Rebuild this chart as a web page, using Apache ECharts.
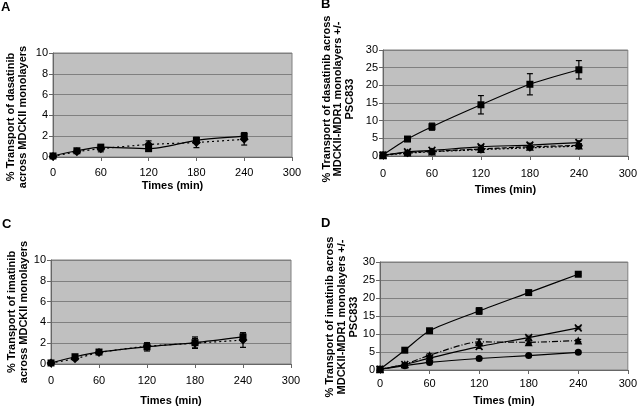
<!DOCTYPE html>
<html>
<head>
<meta charset="utf-8">
<script src="https://cdn.jsdelivr.net/npm/echarts@6/dist/echarts.min.js"></script>
<style>html,body{margin:0;padding:0;background:#fff}#c{width:640px;height:407px}</style>
</head>
<body>
<div id="c"></div>
<script>
// ---- data ----
const times = [0, 30, 60, 120, 180, 240];
const xTicks = [0, 60, 120, 180, 240, 300];

// Panel A: dasatinib, MDCKII
const A_sq = [0.1, 0.6, 0.95, 0.8, 1.6, 2.0];
const A_sqErr = [0, 0.1, 0.15, 0.25, 0.2, 0.35];
const A_dia = [0.05, 0.5, 0.8, 1.2, 1.4, 1.7];
const A_diaErr = [0, 0.1, 0.3, 0.35, 0.5, 0.55];

// Panel B: dasatinib, MDCKII-MDR1 +/- PSC833
const B_sq = [0.3, 4.8, 8.3, 14.5, 20.3, 24.4];
const B_sqErr = [0, 0.3, 1.0, 2.6, 3.0, 2.6];
const B_x = [0.2, 1.2, 1.6, 2.6, 3.1, 3.8];
const B_xErr = [0, 0.3, 0.4, 0.4, 0.5, 0.5];
const B_tri = [0.2, 1.0, 1.3, 2.0, 2.6, 3.0];
const B_triErr = [0, 0.2, 0.3, 0.4, 0.4, 0.5];
const B_dia = [0.2, 0.8, 1.2, 1.8, 2.3, 2.8];
const B_diaErr = [0, 0.2, 0.3, 0.3, 0.4, 0.4];

// Panel C: imatinib, MDCKII
const C_sq = [0.1, 0.7, 1.15, 1.65, 2.05, 2.6];
const C_sqErr = [0, 0.1, 0.15, 0.4, 0.55, 0.4];
const C_dia = [0.1, 0.5, 1.1, 1.7, 2.0, 2.3];
const C_diaErr = [0, 0.1, 0.15, 0.3, 0.45, 0.7];

// Panel D: imatinib, MDCKII-MDR1 +/- PSC833
const D_sq = [0.2, 5.5, 10.9, 16.4, 21.5, 26.6];
const D_sqErr = [0, 0.3, 0.3, 0.9, 0.3, 0.3];
const D_x = [0.2, 1.5, 3.3, 6.5, 9.0, 11.7];
const D_xErr = [0, 0.2, 0.3, 0.5, 0.4, 0.3];
const D_tri = [0.2, 1.6, 4.1, 7.8, 7.7, 8.2];
const D_triErr = [0, 0.2, 0.4, 0.8, 0.4, 0.3];
const D_circ = [0.2, 1.2, 2.1, 3.2, 4.0, 4.9];
const D_circErr = [0, 0.2, 0.2, 0.3, 0.3, 0.3];

const titles = ['A', 'B', 'C', 'D'];
const yNames = [
  '% Transport of dasatinib\nacross MDCKII monolayers',
  '% Transport of dasatinib across\nMDCKII-MDR1 monolayers +/-\nPSC833',
  '% Transport of imatinib\nacross MDCKII monolayers',
  '% Transport of imatinib across\nMDCKII-MDR1 monolayers +/-\nPSC833'
];
const xName = 'Times (min)';

// ---- layout / style ----
const FONT = 'Liberation Sans, Arial, sans-serif';
const grids = [
  {left: 53, top: 53, width: 239, height: 104},
  {left: 383, top: 50, width: 247, height: 106},
  {left: 51, top: 260, width: 240, height: 104},
  {left: 380, top: 262, width: 251, height: 108}
];
const yMax = [10, 30, 10, 30];
const yInt = [2, 5, 2, 5];
const xLabelMargin = [10, 12, 11, 8];
const xNameGap = [23, 28, 31, 25];
const titlePos = [[1, 1], [321, -2], [2, 218], [321, 217]];
const yNamePos = [[17, 117, 12], [338, 99, 11.5], [18, 312, 12.5], [342, 317, 12]];

const X_SYMBOL = 'path://M0,1.5L1.5,0L5,3.5L8.5,0L10,1.5L6.5,5L10,8.5L8.5,10L5,6.5L1.5,10L0,8.5L3.5,5Z';

const panels = [
  [
    {v: A_sq, e: A_sqErr, sym: 'rect', size: 7, dash: 'solid'},
    {v: A_dia, e: A_diaErr, sym: 'diamond', size: 9, dash: [2, 3]}
  ],
  [
    {v: B_sq, e: B_sqErr, sym: 'rect', size: 7, dash: 'solid'},
    {v: B_x, e: B_xErr, sym: X_SYMBOL, size: 8, dash: 'solid'},
    {v: B_tri, e: B_triErr, sym: 'triangle', size: 8, dash: [5, 2]},
    {v: B_dia, e: B_diaErr, sym: 'diamond', size: 8, dash: [2, 2]}
  ],
  [
    {v: C_sq, e: C_sqErr, sym: 'rect', size: 7, dash: 'solid'},
    {v: C_dia, e: C_diaErr, sym: 'diamond', size: 9, dash: [2, 3]}
  ],
  [
    {v: D_sq, e: D_sqErr, sym: 'rect', size: 7, dash: 'solid'},
    {v: D_x, e: D_xErr, sym: X_SYMBOL, size: 8, dash: 'solid'},
    {v: D_tri, e: D_triErr, sym: 'triangle', size: 8, dash: [6, 2, 1, 2]},
    {v: D_circ, e: D_circErr, sym: 'circle', size: 7, dash: 'solid'}
  ]
];

function errRender(params, api) {
  const x = api.value(0), lo = api.value(1), hi = api.value(2);
  if (hi - lo <= 0) return null;
  const a = api.coord([x, lo]), b = api.coord([x, hi]);
  const w = 3;
  const st = {stroke: '#000', lineWidth: 1.2};
  return {type: 'group', children: [
    {type: 'line', shape: {x1: a[0], y1: a[1], x2: b[0], y2: b[1]}, style: st},
    {type: 'line', shape: {x1: a[0] - w, y1: a[1], x2: a[0] + w, y2: a[1]}, style: st},
    {type: 'line', shape: {x1: b[0] - w, y1: b[1], x2: b[0] + w, y2: b[1]}, style: st}
  ]};
}

const gridOpt = [], xAxes = [], yAxes = [], series = [], graphic = [];
grids.forEach((g, i) => {
  gridOpt.push(Object.assign({show: true, backgroundColor: '#c0c0c0', borderColor: '#808080', borderWidth: 1, containLabel: false}, g));
  xAxes.push({
    type: 'value', gridIndex: i, min: 0, max: 300, interval: 60,
    axisLine: {show: true, onZero: false, lineStyle: {color: '#666', width: 1}},
    axisTick: {show: true, length: 4, lineStyle: {color: '#666'}},
    splitLine: {show: false},
    axisLabel: {color: '#000', fontSize: 11, fontFamily: FONT, margin: xLabelMargin[i]},
    name: xName, nameLocation: 'middle', nameGap: xNameGap[i],
    nameTextStyle: {color: '#000', fontSize: 11, fontWeight: 'bold', fontFamily: FONT}
  });
  yAxes.push({
    type: 'value', gridIndex: i, min: 0, max: yMax[i], interval: yInt[i],
    axisLine: {show: true, lineStyle: {color: '#666', width: 1}},
    axisTick: {show: true, length: 4, lineStyle: {color: '#666'}},
    splitLine: {show: true, lineStyle: {color: '#808080', width: 1}},
    axisLabel: {color: '#000', fontSize: 11, fontFamily: FONT, margin: 5}
  });
  panels[i].forEach(s => {
    series.push({
      type: 'custom', xAxisIndex: i, yAxisIndex: i, renderItem: errRender,
      data: times.map((t, k) => [t, s.v[k] - s.e[k], s.v[k] + s.e[k]]),
      encode: {x: 0, y: [1, 2]}, silent: true, z: 3
    });
    series.push({
      type: 'line', xAxisIndex: i, yAxisIndex: i, smooth: 0.25,
      data: times.map((t, k) => [t, s.v[k]]),
      symbol: s.sym, symbolSize: s.size, showSymbol: true,
      lineStyle: {color: '#000', width: 1.2, type: s.dash},
      itemStyle: {color: '#000', borderColor: '#000', borderWidth: 0},
      silent: true, z: 4
    });
  });
  graphic.push({
    type: 'text', left: titlePos[i][0], top: titlePos[i][1],
    style: {text: titles[i], font: 'bold 13px ' + FONT, fill: '#000'}
  });
  graphic.push({
    type: 'text', x: yNamePos[i][0], y: yNamePos[i][1], rotation: Math.PI / 2,
    style: {text: yNames[i], font: 'bold 11px ' + FONT, fill: '#000', align: 'center', verticalAlign: 'middle', lineHeight: yNamePos[i][2]}
  });
});

const chart = echarts.init(document.getElementById('c'), null, {renderer: 'canvas'});
chart.setOption({
  animation: false,
  backgroundColor: '#fff',
  grid: gridOpt,
  xAxis: xAxes,
  yAxis: yAxes,
  series: series,
  graphic: graphic
});
</script>
</body>
</html>
